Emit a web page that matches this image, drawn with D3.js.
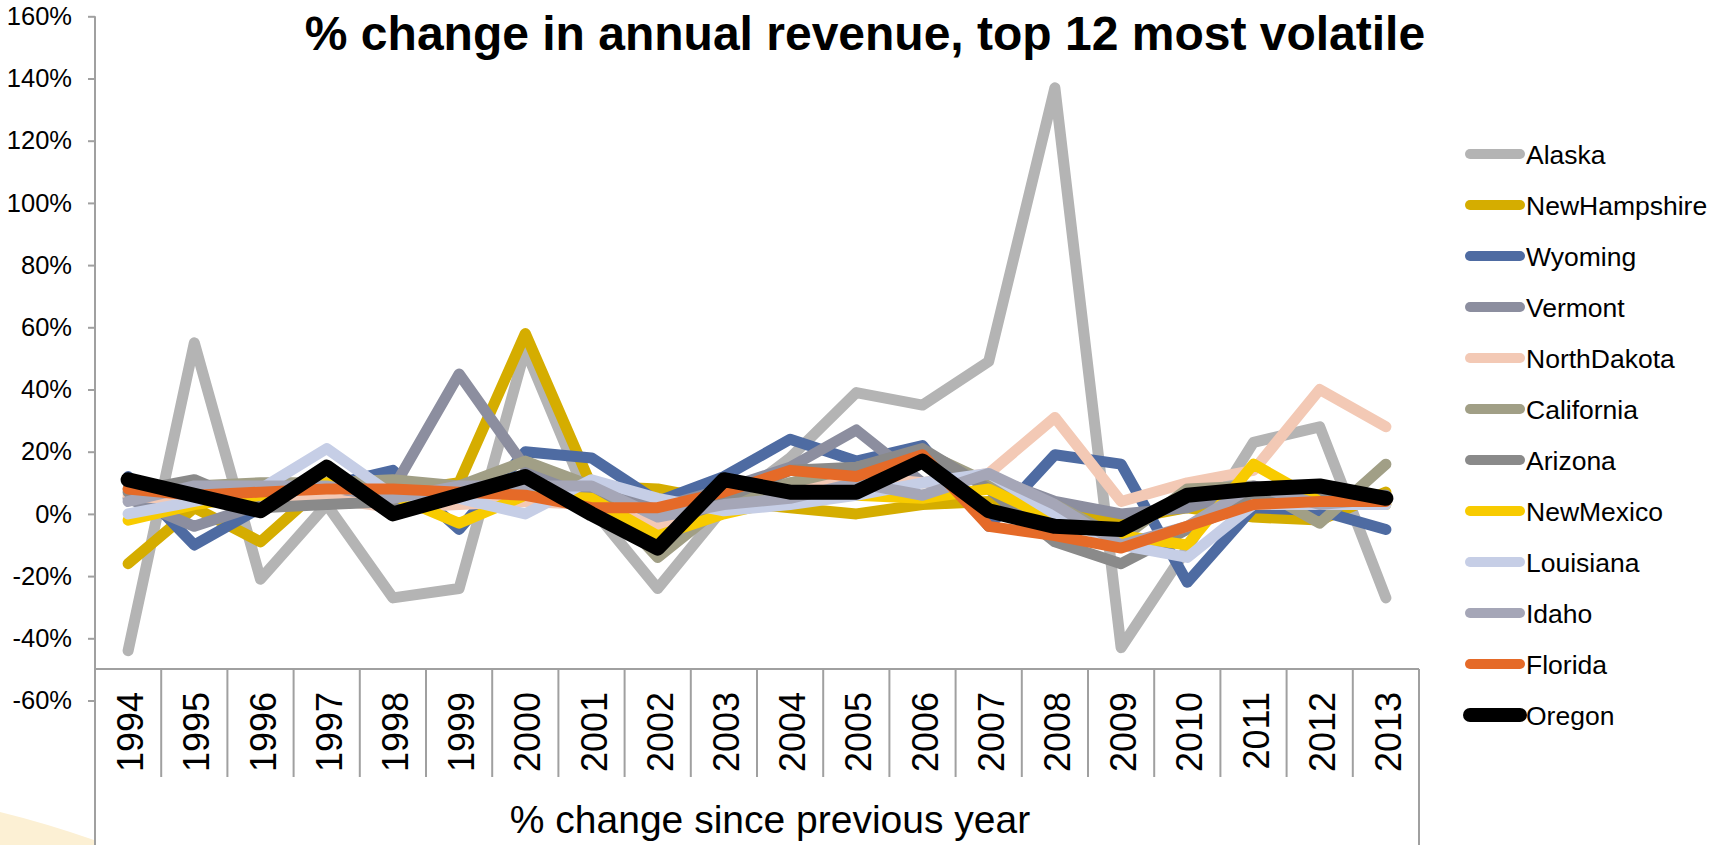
<!DOCTYPE html>
<html>
<head>
<meta charset="utf-8">
<script src="https://cdn.jsdelivr.net/npm/d3@7"></script>
<style>
  html, body { margin: 0; padding: 0; background: #fff; }
  svg { display: block; font-family: "Liberation Sans", Arial, sans-serif; }
</style>
</head>
<body>
<svg id="chart" width="1711" height="845"></svg>
<script>
// data (percent change vs previous year)
var years = [1994, 1995, 1996, 1997, 1998, 1999, 2000, 2001, 2002, 2003,
             2004, 2005, 2006, 2007, 2008, 2009, 2010, 2011, 2012, 2013];
var yTicks = [-60, -40, -20, 0, 20, 40, 60, 80, 100, 120, 140, 160];

var alaska       = [-44, 55, -21, 3, -27, -24, 53, 2, -24, 2, 18, 39, 35, 49, 137, -43, -11, 23, 28, -27];
var newHampshire = [-16, 2, -9, 10, 7, 10, 58, 9, 8, 4, 2, 0, 3, 4, 2, -2, 2, -1, -2, 7];
var wyoming      = [12, -10, 2, 9, 14, -5, 20, 18, 4, 12, 24, 17, 22, -4, 19, 16, -22, 2, 1, -5];
var vermont      = [5, -4, 3, 3, 8, 45, 15, 8, 2, 8, 15, 27, 10, 12, 4, 0, 2, 8, 3, 6];
var northDakota  = [6, 4, 5, 5, 2, 3, 4, 3, -4, 5, 10, 12, 10, 13, 31, 4, 10, 14, 40, 28];
var california   = [8, 9, 10, 10, 11, 9, 17, 9, -14, 3, 10, 15, 20, 10, 3, -8, 8, 9, -3, 16];
var arizona      = [7, 11, 2, 3, 4, 7, 9, 6, -9, 5, 14, 15, 21, 8, -9, -16, -5, 5, 6, 6];
var newMexico    = [-2, 3, 6, 10, 6, -3, 6, 5, -7, 0, 5, 6, 5, 8, -2, -7, -10, 16, 4, 3];
var louisiana    = [0, 4, 8, 21, 6, 5, 0, 11, 5, 1, 3, 6, 10, 13, 0, -10, -14, 3, 3, 3];
var idaho        = [4, 9, 9, 9, 5, 9, 9, 9, -1, 3, 5, 10, 6, 13, 3, -10, -4, 9, 3, 5];
var florida      = [8, 6, 7, 8, 8, 7, 6, 2, 2, 7, 14, 12, 19, -4, -7, -11, -4, 3, 4, 4];
var oregon       = [11, 6, 1, 15, 0, 6, 12, 0, -11, 11, 7, 7, 17, 1, -4, -5, 6, 8, 9, 5];

var series = [
    { name: 'Alaska',       values: alaska,       color: '#b4b4b4' },
    { name: 'NewHampshire', values: newHampshire, color: '#d5ad00' },
    { name: 'Wyoming',      values: wyoming,      color: '#4e6ba2' },
    { name: 'Vermont',      values: vermont,      color: '#8c8e9f' },
    { name: 'NorthDakota',  values: northDakota,  color: '#f3c9b5' },
    { name: 'California',   values: california,   color: '#a19f86' },
    { name: 'Arizona',      values: arizona,      color: '#8a8a8a' },
    { name: 'NewMexico',    values: newMexico,    color: '#f8cb00' },
    { name: 'Louisiana',    values: louisiana,    color: '#c6cee6' },
    { name: 'Idaho',        values: idaho,        color: '#a5a6b7' },
    { name: 'Florida',      values: florida,      color: '#e56a28' },
    { name: 'Oregon',       values: oregon,       color: '#000000', wide: true }
];

var svg = d3.select('#chart'),
    axisColor = '#a0a0a0',
    left = 95, right = 1419,
    axisY = 669, boxBottom = 777;

var x = d3.scaleBand().domain(years).range([left, right]).paddingInner(0).paddingOuter(0);
var y = d3.scaleLinear().domain([-60, 160]).range([700.5, 16.3]);

// faint cream wedge in the bottom left corner
svg.append('path')
    .attr('d', 'M0,812 Q45,823 94,840 L94,845 L0,845 Z')
    .attr('fill', '#fcf0d4');

// title
svg.append('text')
    .attr('x', 865).attr('y', 50)
    .attr('text-anchor', 'middle')
    .style('font-size', '48px')
    .style('font-weight', 'bold')
    .text('% change in annual revenue, top 12 most volatile');

// y axis
var yAxis = d3.axisLeft(y)
    .tickValues(yTicks)
    .tickSize(7)
    .tickPadding(16)
    .tickFormat(function (d) { return d + '%'; });

var gy = svg.append('g')
    .attr('transform', 'translate(' + left + ',0)')
    .call(yAxis);
gy.select('.domain').remove();
gy.selectAll('.tick line').attr('stroke', axisColor).attr('stroke-width', 2);
gy.selectAll('.tick text')
    .attr('fill', '#000')
    .style('font-size', '25.5px')
    .style('font-family', '"Liberation Sans", Arial, sans-serif');

svg.append('line')
    .attr('x1', left).attr('x2', left)
    .attr('y1', y(160)).attr('y2', 845)
    .attr('stroke', axisColor).attr('stroke-width', 2);

// category table under the plot
svg.append('line')
    .attr('x1', left).attr('x2', right)
    .attr('y1', axisY).attr('y2', axisY)
    .attr('stroke', axisColor).attr('stroke-width', 2);

svg.append('g').selectAll('line')
    .data(years)
  .enter().append('line')
    .attr('x1', function (d) { return x(d) + x.bandwidth(); })
    .attr('x2', function (d) { return x(d) + x.bandwidth(); })
    .attr('y1', axisY)
    .attr('y2', function (d, i) { return i === years.length - 1 ? 845 : boxBottom; })
    .attr('stroke', axisColor).attr('stroke-width', 2);

svg.append('g').selectAll('text')
    .data(years)
  .enter().append('text')
    .attr('transform', function (d) { return 'translate(' + (x(d) + x.bandwidth() / 2) + ',692) rotate(-90)'; })
    .attr('text-anchor', 'end')
    .attr('dy', '0.42em')
    .style('font-size', '36px')
    .text(function (d) { return d; });

svg.append('text')
    .attr('x', 770).attr('y', 833)
    .attr('text-anchor', 'middle')
    .style('font-size', '39px')
    .text('% change since previous year');

// series lines, drawn in legend order so Oregon ends on top
var line = d3.line()
    .x(function (d, i) { return x(years[i]) + x.bandwidth() / 2; })
    .y(function (d) { return y(d); });

svg.append('g').selectAll('path')
    .data(series)
  .enter().append('path')
    .attr('d', function (s) { return line(s.values); })
    .attr('fill', 'none')
    .attr('stroke', function (s) { return s.color; })
    .attr('stroke-width', function (s) { return s.wide ? 15 : 11; })
    .attr('stroke-linejoin', 'round')
    .attr('stroke-linecap', 'round');

// legend
var legend = svg.append('g').selectAll('g')
    .data(series)
  .enter().append('g')
    .attr('transform', function (s, i) { return 'translate(0,' + (154 + i * 51) + ')'; });

legend.append('line')
    .attr('x1', 1470).attr('x2', 1520)
    .attr('stroke', function (s) { return s.color; })
    .attr('stroke-width', function (s) { return s.wide ? 14 : 10; })
    .attr('stroke-linecap', 'round');

legend.append('text')
    .attr('x', 1526)
    .attr('dy', '0.36em')
    .style('font-size', '26.5px')
    .text(function (s) { return s.name; });
</script>
</body>
</html>
